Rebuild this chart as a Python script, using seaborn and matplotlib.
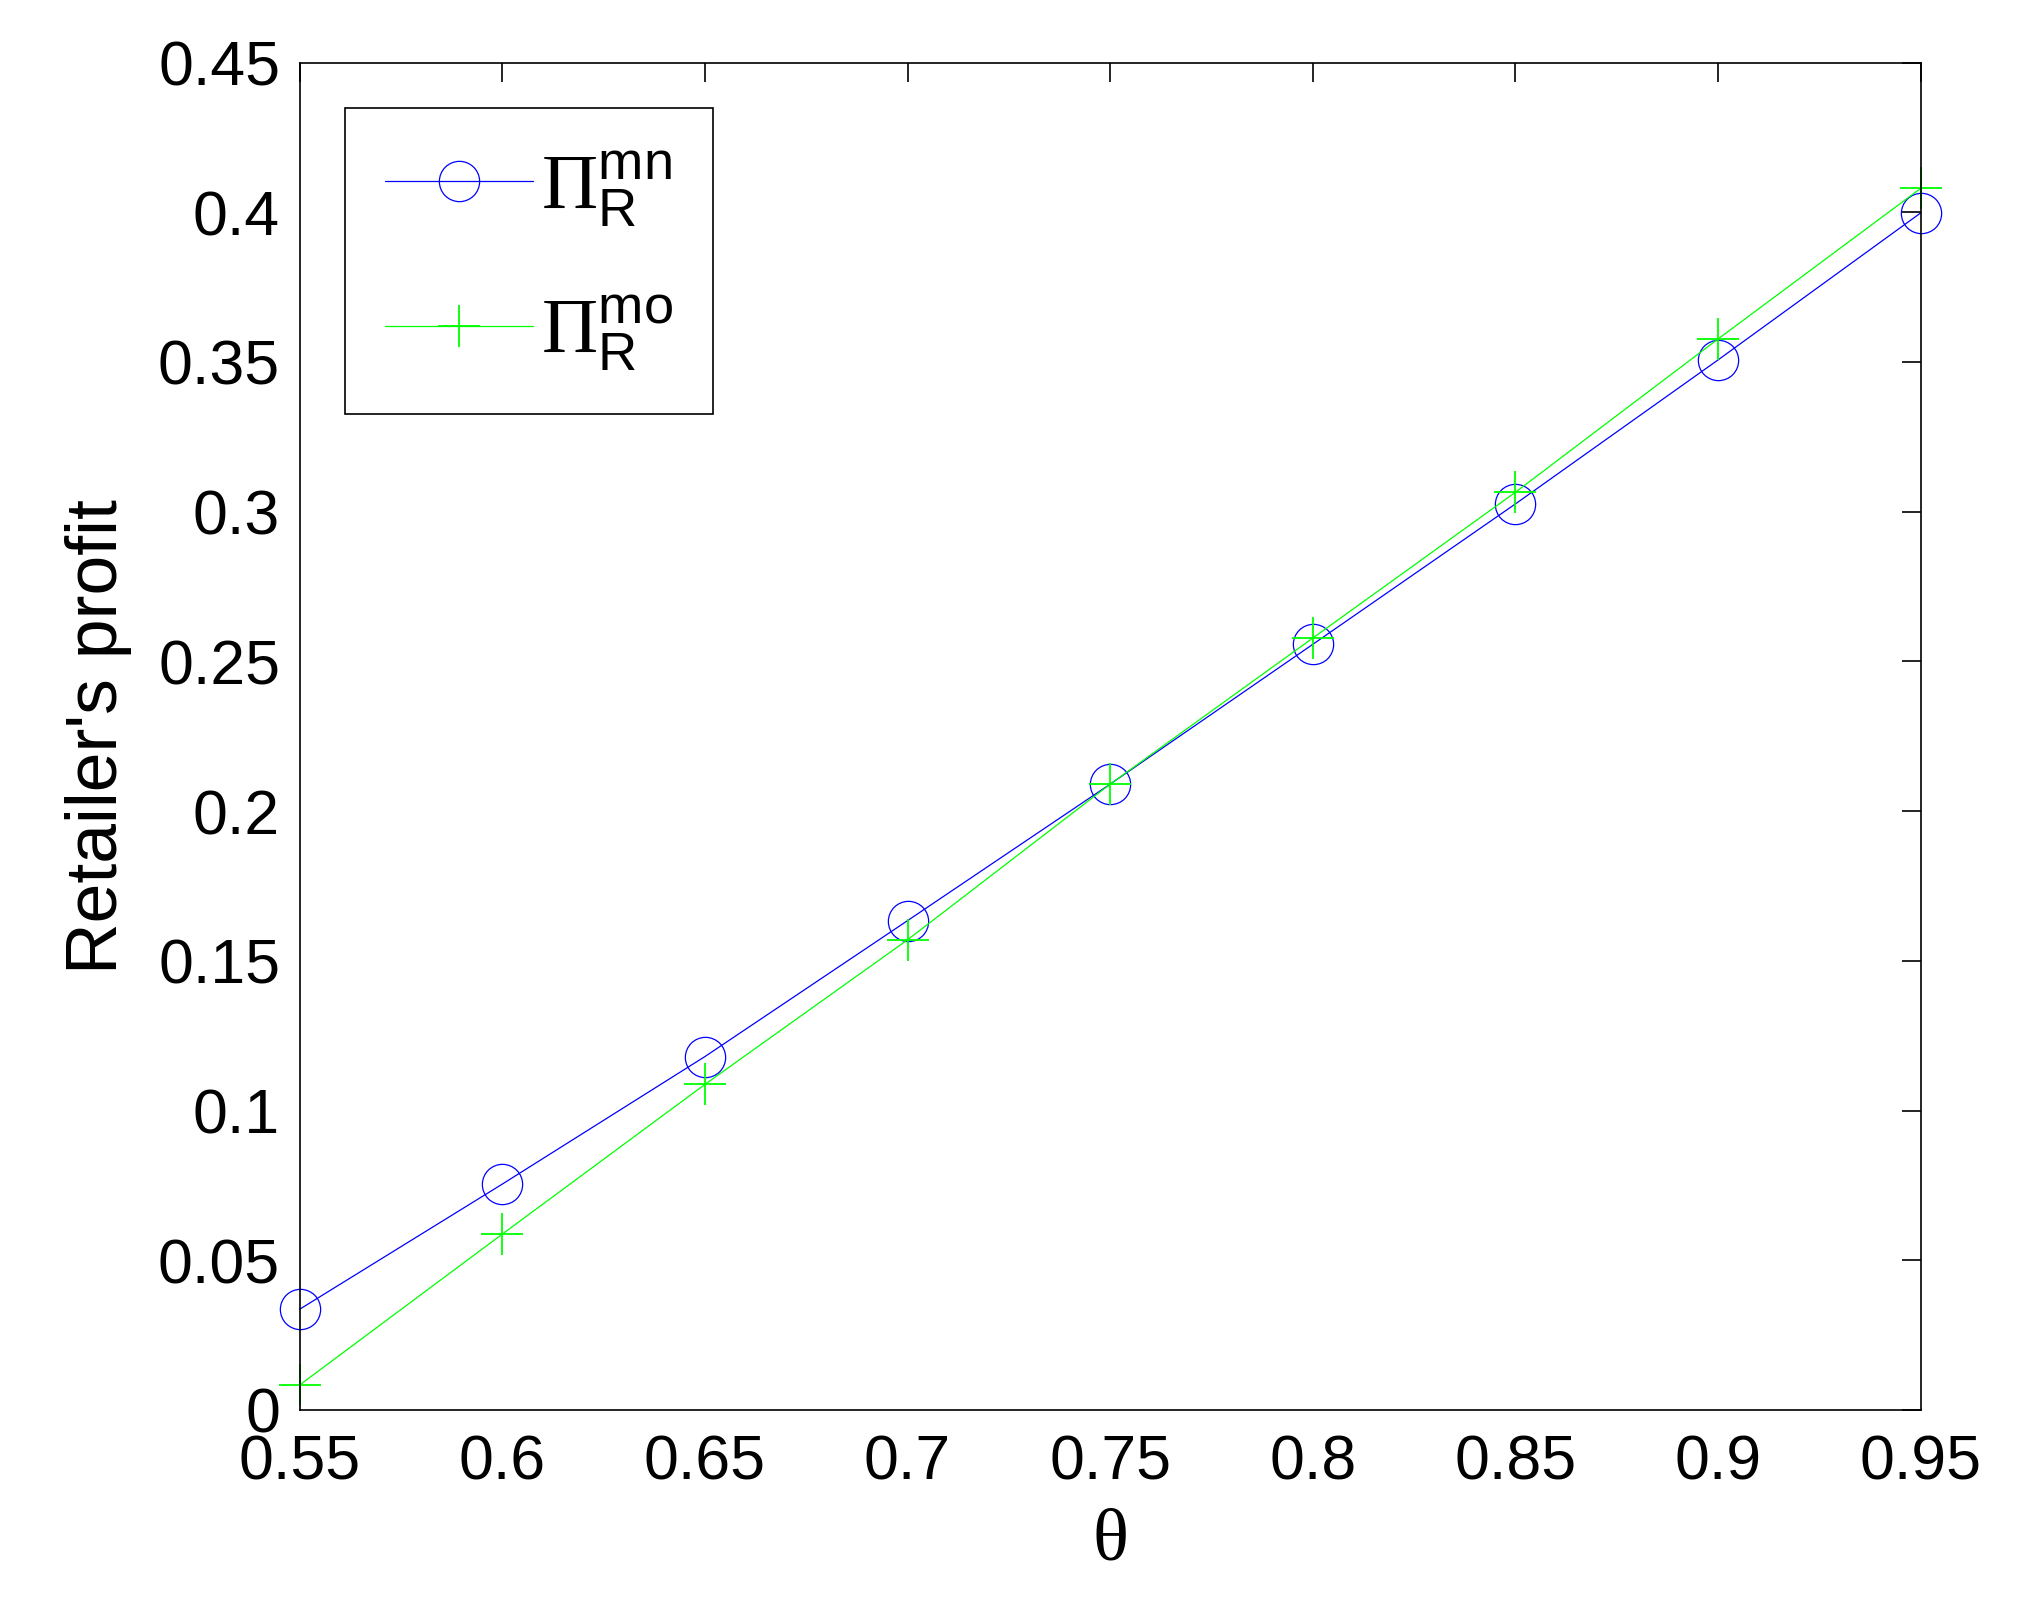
import numpy as np
import matplotlib
matplotlib.use("Agg")
import matplotlib.pyplot as plt
import seaborn as sns
from matplotlib.ticker import FuncFormatter

# === Data ===
theta = [0.55, 0.60, 0.65, 0.70, 0.75, 0.80, 0.85, 0.90, 0.95]
profit_mn = [0.0336, 0.0754, 0.1180, 0.1634, 0.2090, 0.2557, 0.3026, 0.3507, 0.3998]
profit_mo = [0.0083, 0.0587, 0.1087, 0.1570, 0.2090, 0.2578, 0.3065, 0.3577, 0.4080]
x_ticks = [0.55, 0.6, 0.65, 0.7, 0.75, 0.8, 0.85, 0.9, 0.95]
y_ticks = [0, 0.05, 0.1, 0.15, 0.2, 0.25, 0.3, 0.35, 0.4, 0.45]
labels = [r"$\Pi_{\mathsf{R}}^{\mathsf{mn}}$", r"$\Pi_{\mathsf{R}}^{\mathsf{mo}}$"]

sns.set_theme(style="white")
plt.rcParams["font.family"] = ["Liberation Sans", "DejaVu Sans"]
plt.rcParams["text.color"] = "black"
plt.rcParams["axes.labelcolor"] = "black"
plt.rcParams["mathtext.fontset"] = "custom"
plt.rcParams["mathtext.rm"] = "Liberation Serif"
plt.rcParams["mathtext.it"] = "Liberation Serif:italic"
plt.rcParams["mathtext.sf"] = "Liberation Sans"

fig = plt.figure(figsize=(20.24, 16.04), dpi=100)
ax = fig.add_axes([0.148, 0.121, 0.801, 0.840])

sns.lineplot(x=theta, y=profit_mn, ax=ax, color="#0000FF", lw=0.9,
             marker="o", markersize=29, markerfacecolor="none",
             markeredgecolor="#0000FF", markeredgewidth=0.9, label=labels[0],
             clip_on=False)
sns.lineplot(x=theta, y=profit_mo, ax=ax, color="#00FF00", lw=0.9,
             marker="+", markersize=30, markeredgecolor="#00FF00",
             markeredgewidth=1.3, label=labels[1], clip_on=False)

ax.set_xlim(0.55, 0.95)
ax.set_ylim(0, 0.45)
ax.set_xticks(x_ticks)
ax.set_yticks(y_ticks)
fmt = FuncFormatter(lambda v, p: f"{round(v, 2):g}")
ax.xaxis.set_major_formatter(fmt)
ax.yaxis.set_major_formatter(fmt)
ax.tick_params(direction="in", top=True, right=True, length=14, width=1.2,
               labelsize=45, colors="black")
ax.tick_params(axis="x", pad=17)
ax.tick_params(axis="y", pad=14)

for sp in ax.spines.values():
    sp.set_color("black")
    sp.set_linewidth(1.2)

ax.set_xlabel("θ", fontsize=54, family=["Liberation Serif", "DejaVu Serif"], labelpad=11)
ax.set_ylabel("Retailer's profit", fontsize=51.5, labelpad=19)

leg = ax.legend(loc="upper left", bbox_to_anchor=(0.028, 0.966), fontsize=56,
                handlelength=1.9, handletextpad=0.1, labelspacing=0.83,
                borderpad=0.52, borderaxespad=0, numpoints=1, fancybox=False,
                framealpha=1, edgecolor="black")
leg.get_frame().set_linewidth(1.2)

fig.savefig("out.png", dpi=100)
